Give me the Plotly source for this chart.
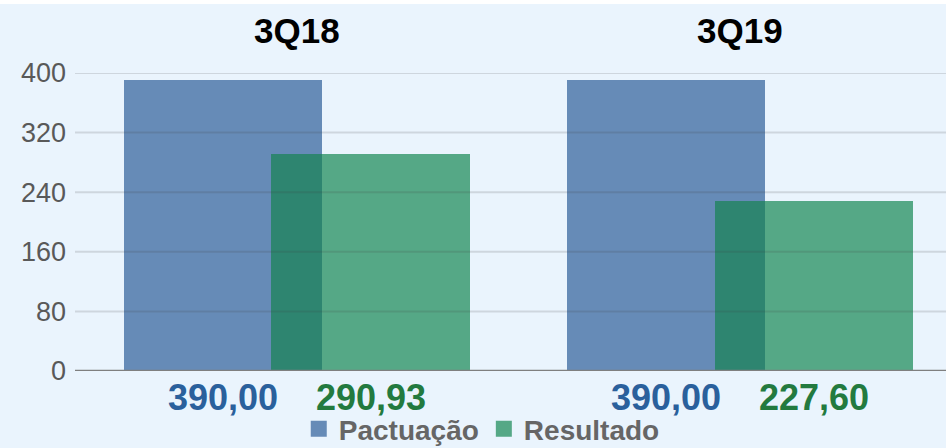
import plotly.graph_objects as go

# data
periods = ["3Q18", "3Q19"]
series = ["Pactuação", "Resultado"]
pactuacao = [390.00, 390.00]
resultado = [290.93, 227.60]
y_ticks = [0, 80, 160, 240, 320, 400]

BLUE = "#668BB7"
GREEN = "#55A886"
OVERLAP = "#2E8570"
BLUE_TXT = "#2A609C"
GREEN_TXT = "#237A3F"
BG = "#EAF4FD"
FONT = "Liberation Sans"

xs = list(range(len(periods)))
bar_w = 0.447
off = 0.167
overlap_w = 2 * (bar_w / 2 - off)


def fmt(v):
    return f"{v:.2f}".replace(".", ",")


fig = go.Figure()

fig.add_trace(go.Bar(
    x=[x - off for x in xs], y=pactuacao, width=bar_w,
    marker=dict(color=BLUE, line=dict(width=0)),
    name=series[0], showlegend=False,
))
fig.add_trace(go.Bar(
    x=[x + off for x in xs], y=resultado, width=bar_w,
    marker=dict(color=GREEN, line=dict(width=0)),
    name=series[1], showlegend=False,
))
# darker band where the two bars overlap
fig.add_trace(go.Bar(
    x=xs, y=[min(a, b) for a, b in zip(pactuacao, resultado)], width=overlap_w,
    marker=dict(color=OVERLAP, line=dict(width=0)),
    showlegend=False, hoverinfo="skip",
))

# legend entries with bigger square swatches
for name, col in zip(series, [BLUE, GREEN]):
    fig.add_trace(go.Scatter(
        x=[None], y=[None], mode="markers", name=f"<b>{name}</b>",
        marker=dict(symbol="square", size=18, color=col),
    ))

# gridlines drawn above bars (faint)
for t in y_ticks[1:]:
    fig.add_shape(type="line", xref="paper", yref="y", x0=0, x1=1, y0=t, y1=t,
                  line=dict(color="rgba(60,60,60,0.16)", width=2), layer="above")
fig.add_shape(type="line", xref="paper", yref="y", x0=0, x1=1, y0=0, y1=0,
              line=dict(color="#7F7F7F", width=2.5), layer="above")

# thin white strip at the very top of the image
top = 1 + 73 / 298
fig.add_shape(type="rect", xref="paper", yref="paper", x0=-75 / 871, x1=1,
              y0=top - 4 / 298, y1=top + 0.01, fillcolor="white",
              line=dict(width=0), layer="above")

# group titles
for x, p in zip(xs, periods):
    fig.add_annotation(x=x, y=1, xref="x", yref="paper", text=f"<b>{p}</b>",
                       showarrow=False, yanchor="middle", yshift=43,
                       font=dict(family=FONT, size=35, color="#000000"))

# value labels under the axis
for x, a, b in zip(xs, pactuacao, resultado):
    fig.add_annotation(x=x - off, y=0, xref="x", yref="y", text=f"<b>{fmt(a)}</b>",
                       showarrow=False, yanchor="middle", yshift=-26,
                       font=dict(family=FONT, size=36, color=BLUE_TXT))
    fig.add_annotation(x=x + off, y=0, xref="x", yref="y", text=f"<b>{fmt(b)}</b>",
                       showarrow=False, yanchor="middle", yshift=-26,
                       font=dict(family=FONT, size=36, color=GREEN_TXT))

fig.update_xaxes(range=[-0.5, 1.466], showticklabels=False, showgrid=False,
                 zeroline=False, showline=False)
fig.update_yaxes(range=[0, 400], tickvals=y_ticks, showgrid=False, zeroline=False,
                 showline=False, ticks="", ticklabelstandoff=8,
                 tickfont=dict(family=FONT, size=27, color="#595959"))

fig.update_layout(
    width=946, height=448,
    barmode="overlay",
    paper_bgcolor=BG, plot_bgcolor=BG,
    margin=dict(l=75, r=0, t=73, b=77, autoexpand=False),
    showlegend=True,
    legend=dict(orientation="h", x=0.467, xanchor="center",
                yref="container", y=19 / 448, yanchor="middle",
                font=dict(family=FONT, size=28, color="#666666"),
                bgcolor="rgba(0,0,0,0)", itemsizing="trace", itemwidth=30),
    bargap=0,
)

fig.write_html("out.html", config={"displayModeBar": False},
               post_script="document.body.style.margin='0';")
